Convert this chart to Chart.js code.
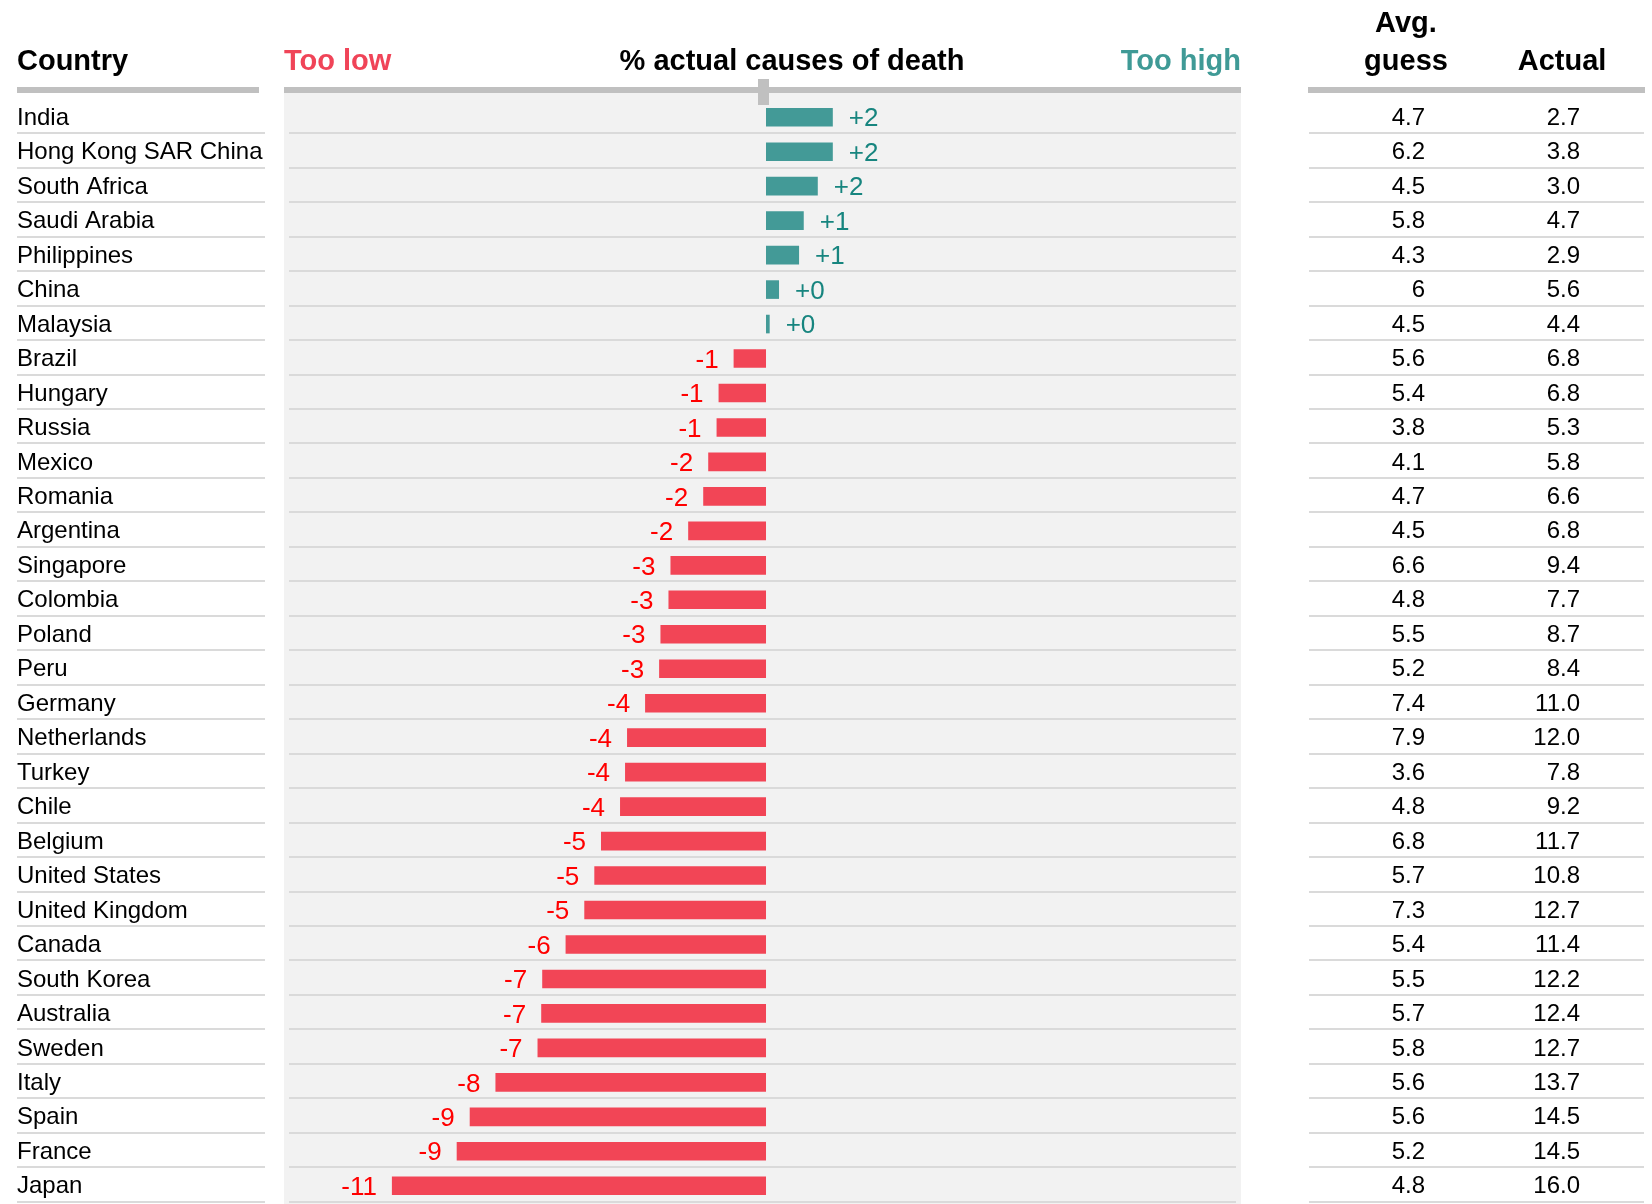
<!DOCTYPE html>
<html>
<head>
<meta charset="utf-8">
<script src="https://cdn.jsdelivr.net/npm/chart.js@4.4.0/dist/chart.umd.min.js"></script>
<style>
  html, body { margin: 0; padding: 0; background: #fff; }
</style>
</head>
<body>
<canvas id="myChart" width="1652" height="1204"></canvas>
<script>
const countries = [
  "India", "Hong Kong SAR China", "South Africa", "Saudi Arabia", "Philippines",
  "China", "Malaysia", "Brazil", "Hungary", "Russia", "Mexico", "Romania",
  "Argentina", "Singapore", "Colombia", "Poland", "Peru", "Germany",
  "Netherlands", "Turkey", "Chile", "Belgium", "United States",
  "United Kingdom", "Canada", "South Korea", "Australia", "Sweden", "Italy",
  "Spain", "France", "Japan"
];
const avgGuess = [
  4.7, 6.2, 4.5, 5.8, 4.3, 6, 4.5, 5.6, 5.4, 3.8, 4.1, 4.7, 4.5, 6.6, 4.8, 5.5,
  5.2, 7.4, 7.9, 3.6, 4.8, 6.8, 5.7, 7.3, 5.4, 5.5, 5.7, 5.8, 5.6, 5.6, 5.2, 4.8
];
const actual = [
  2.7, 3.8, 3.0, 4.7, 2.9, 5.6, 4.4, 6.8, 6.8, 5.3, 5.8, 6.6, 6.8, 9.4, 7.7, 8.7,
  8.4, 11.0, 12.0, 7.8, 9.2, 11.7, 10.8, 12.7, 11.4, 12.2, 12.4, 12.7, 13.7, 14.5,
  14.5, 16.0
];
// guess minus actual, as drawn by the bars
const gap = [
  2.0, 2.0, 1.55, 1.13, 0.99, 0.39, 0.11, -0.97, -1.42, -1.48, -1.73, -1.88,
  -2.33, -2.86, -2.92, -3.16, -3.2, -3.62, -4.16, -4.22, -4.37, -4.94, -5.14,
  -5.44, -6.0, -6.7, -6.73, -6.84, -8.1, -8.87, -9.26, -11.2
];

const tealBar = "#439a97";
const redBar = "#f24556";
const tealText = "#17857f";
const redText = "#ff0000";
const font = "'Liberation Sans', Arial, sans-serif";

const decor = {
  id: "decor",
  beforeDraw(chart) {
    const ctx = chart.ctx;
    const y = chart.scales.y;
    const area = chart.chartArea;
    ctx.save();
    ctx.fillStyle = "#fff";
    ctx.fillRect(0, 0, chart.width, chart.height);
    // grey panel behind the bars
    ctx.fillStyle = "#f2f2f2";
    ctx.fillRect(area.left, 90, area.right - area.left, chart.height - 90);
    // row lines
    ctx.fillStyle = "#dadada";
    countries.forEach((c, i) => {
      const ly = Math.round(y.getPixelForValue(i) + 15);
      ctx.fillRect(17, ly, 248, 2);
      ctx.fillRect(289, ly, 947, 2);
      ctx.fillRect(1309, ly, 335, 2);
    });
    // header rules
    ctx.fillStyle = "#c0c0c0";
    ctx.fillRect(17, 87, 242, 6);
    ctx.fillRect(area.left, 87, area.right - area.left, 6);
    ctx.fillRect(1308, 87, 337, 6);
    const x0 = chart.scales.x.getPixelForValue(0);
    ctx.fillRect(x0 - 8, 79, 11, 26);
    ctx.restore();
  },
  afterDatasetsDraw(chart) {
    const ctx = chart.ctx;
    const meta = chart.getDatasetMeta(0);
    const y = chart.scales.y;
    ctx.save();

    // headers
    ctx.textBaseline = "alphabetic";
    ctx.font = "bold 29px " + font;
    ctx.fillStyle = "#000";
    ctx.textAlign = "left";
    ctx.fillText("Country", 17, 70);
    ctx.textAlign = "center";
    ctx.fillText("% actual causes of death", 792, 70);
    ctx.fillText("Avg.", 1406, 32);
    ctx.fillText("guess", 1406, 70);
    ctx.fillText("Actual", 1562, 70);
    ctx.fillStyle = "#f04458";
    ctx.textAlign = "left";
    ctx.fillText("Too low", 284, 70);
    ctx.fillStyle = "#3f9a96";
    ctx.textAlign = "right";
    ctx.fillText("Too high", 1241, 70);

    ctx.textBaseline = "middle";
    countries.forEach((c, i) => {
      const cy = y.getPixelForValue(i) + 1;
      ctx.font = "24px " + font;
      ctx.fillStyle = "#000";
      ctx.textAlign = "left";
      ctx.fillText(c, 17, cy);
      ctx.textAlign = "right";
      ctx.fillText(String(avgGuess[i]), 1425, cy);
      ctx.fillText(actual[i].toFixed(1), 1580, cy);

      // value label at the end of each bar
      const bar = meta.data[i];
      const v = gap[i];
      const r = Math.round(v);
      ctx.font = "26px " + font;
      if (v >= 0) {
        ctx.fillStyle = tealText;
        ctx.textAlign = "left";
        ctx.fillText("+" + r, bar.x + 16, cy + 1);
      } else {
        ctx.fillStyle = redText;
        ctx.textAlign = "right";
        ctx.fillText(String(r), bar.x - 15, cy + 1);
      }
    });
    ctx.restore();
  }
};

new Chart(document.getElementById("myChart"), {
  type: "bar",
  data: {
    labels: countries,
    datasets: [{
      data: gap,
      backgroundColor: gap.map((v) => (v >= 0 ? tealBar : redBar)),
      borderWidth: 0,
      barPercentage: 0.54,
      categoryPercentage: 1
    }]
  },
  options: {
    indexAxis: "y",
    responsive: false,
    animation: false,
    layout: { padding: { left: 284, right: 411, top: 100, bottom: 1 } },
    scales: {
      x: { type: "linear", min: -14.43, max: 14.22, display: false },
      y: { display: false, grid: { display: false } }
    },
    plugins: {
      legend: { display: false },
      tooltip: { enabled: false }
    }
  },
  plugins: [decor]
});
</script>
</body>
</html>
